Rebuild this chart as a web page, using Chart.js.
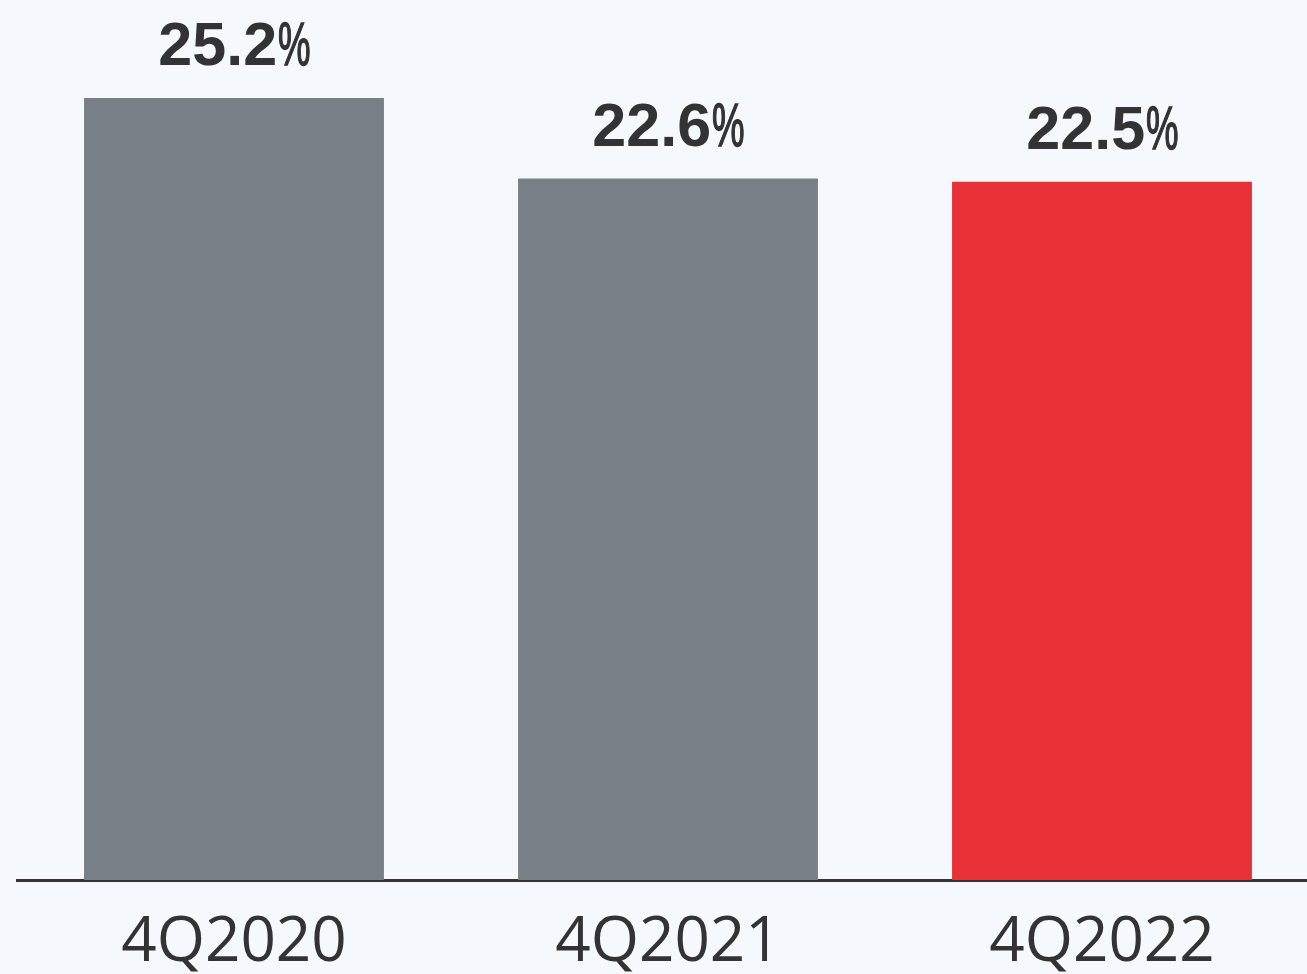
<!DOCTYPE html>
<html>
<head>
<meta charset="utf-8">
<script src="https://cdn.jsdelivr.net/npm/chart.js@4.4.0/dist/chart.umd.min.js"></script>
<style>
  html, body { margin: 0; padding: 0; background: #f5f8fd; overflow: hidden; }
  #wrap { width: 1320px; height: 974px; }
</style>
</head>
<body>
<div id="wrap"><canvas id="chart" width="1320" height="974"></canvas></div>
<script>
const categories = ['4Q2020', '4Q2021', '4Q2022'];
const values = [25.2, 22.6, 22.5];
const barColors = ['#787f86', '#787f86', '#e83037'];

// value labels: bold number, narrow % sign
const valueLabels = {
  id: 'valueLabels',
  afterDatasetsDraw(chart) {
    const ctx = chart.ctx;
    const meta = chart.getDatasetMeta(0);
    meta.data.forEach((bar, i) => {
      const num = values[i].toFixed(1);
      ctx.save();
      ctx.fillStyle = '#333333';
      ctx.textBaseline = 'alphabetic';
      ctx.textAlign = 'left';
      ctx.font = 'bold 61px "Liberation Sans", Arial, sans-serif';
      const wNum = ctx.measureText(num).width;
      ctx.font = '61px "Liberation Sans", Arial, sans-serif';
      const wPct = ctx.measureText('%').width * 0.6;
      const x0 = bar.x - (wNum + wPct) / 2;
      const y = bar.y - 33;
      ctx.font = 'bold 61px "Liberation Sans", Arial, sans-serif';
      ctx.fillText(num, x0, y);
      ctx.translate(x0 + wNum + 1, y);
      ctx.scale(0.6, 1);
      ctx.lineWidth = 1.5;
      ctx.strokeStyle = '#333333';
      ctx.font = '61px "Liberation Sans", Arial, sans-serif';
      ctx.fillText('%', 0, 0);
      ctx.strokeText('%', 0, 0);
      ctx.restore();
    });
  }
};

new Chart(document.getElementById('chart'), {
  type: 'bar',
  data: {
    labels: categories,
    datasets: [{ data: values, backgroundColor: barColors, barPercentage: 0.691, categoryPercentage: 1 }]
  },
  options: {
    responsive: false,
    animation: false,
    layout: { padding: { left: 17, right: 1, top: 11, bottom: 0 } },
    plugins: { legend: { display: false }, tooltip: { enabled: false } },
    scales: {
      y: { display: false, min: 0, max: 28 },
      x: {
        grid: { display: false },
        border: { display: true, color: '#333333', width: 3 },
        ticks: { color: '#333333', padding: 18, font: { family: '"Open Sans", "Noto Sans", sans-serif', size: 62 } },
        afterFit(scale) { scale.height = 94; }
      }
    }
  },
  plugins: [valueLabels]
});
</script>
</body>
</html>
